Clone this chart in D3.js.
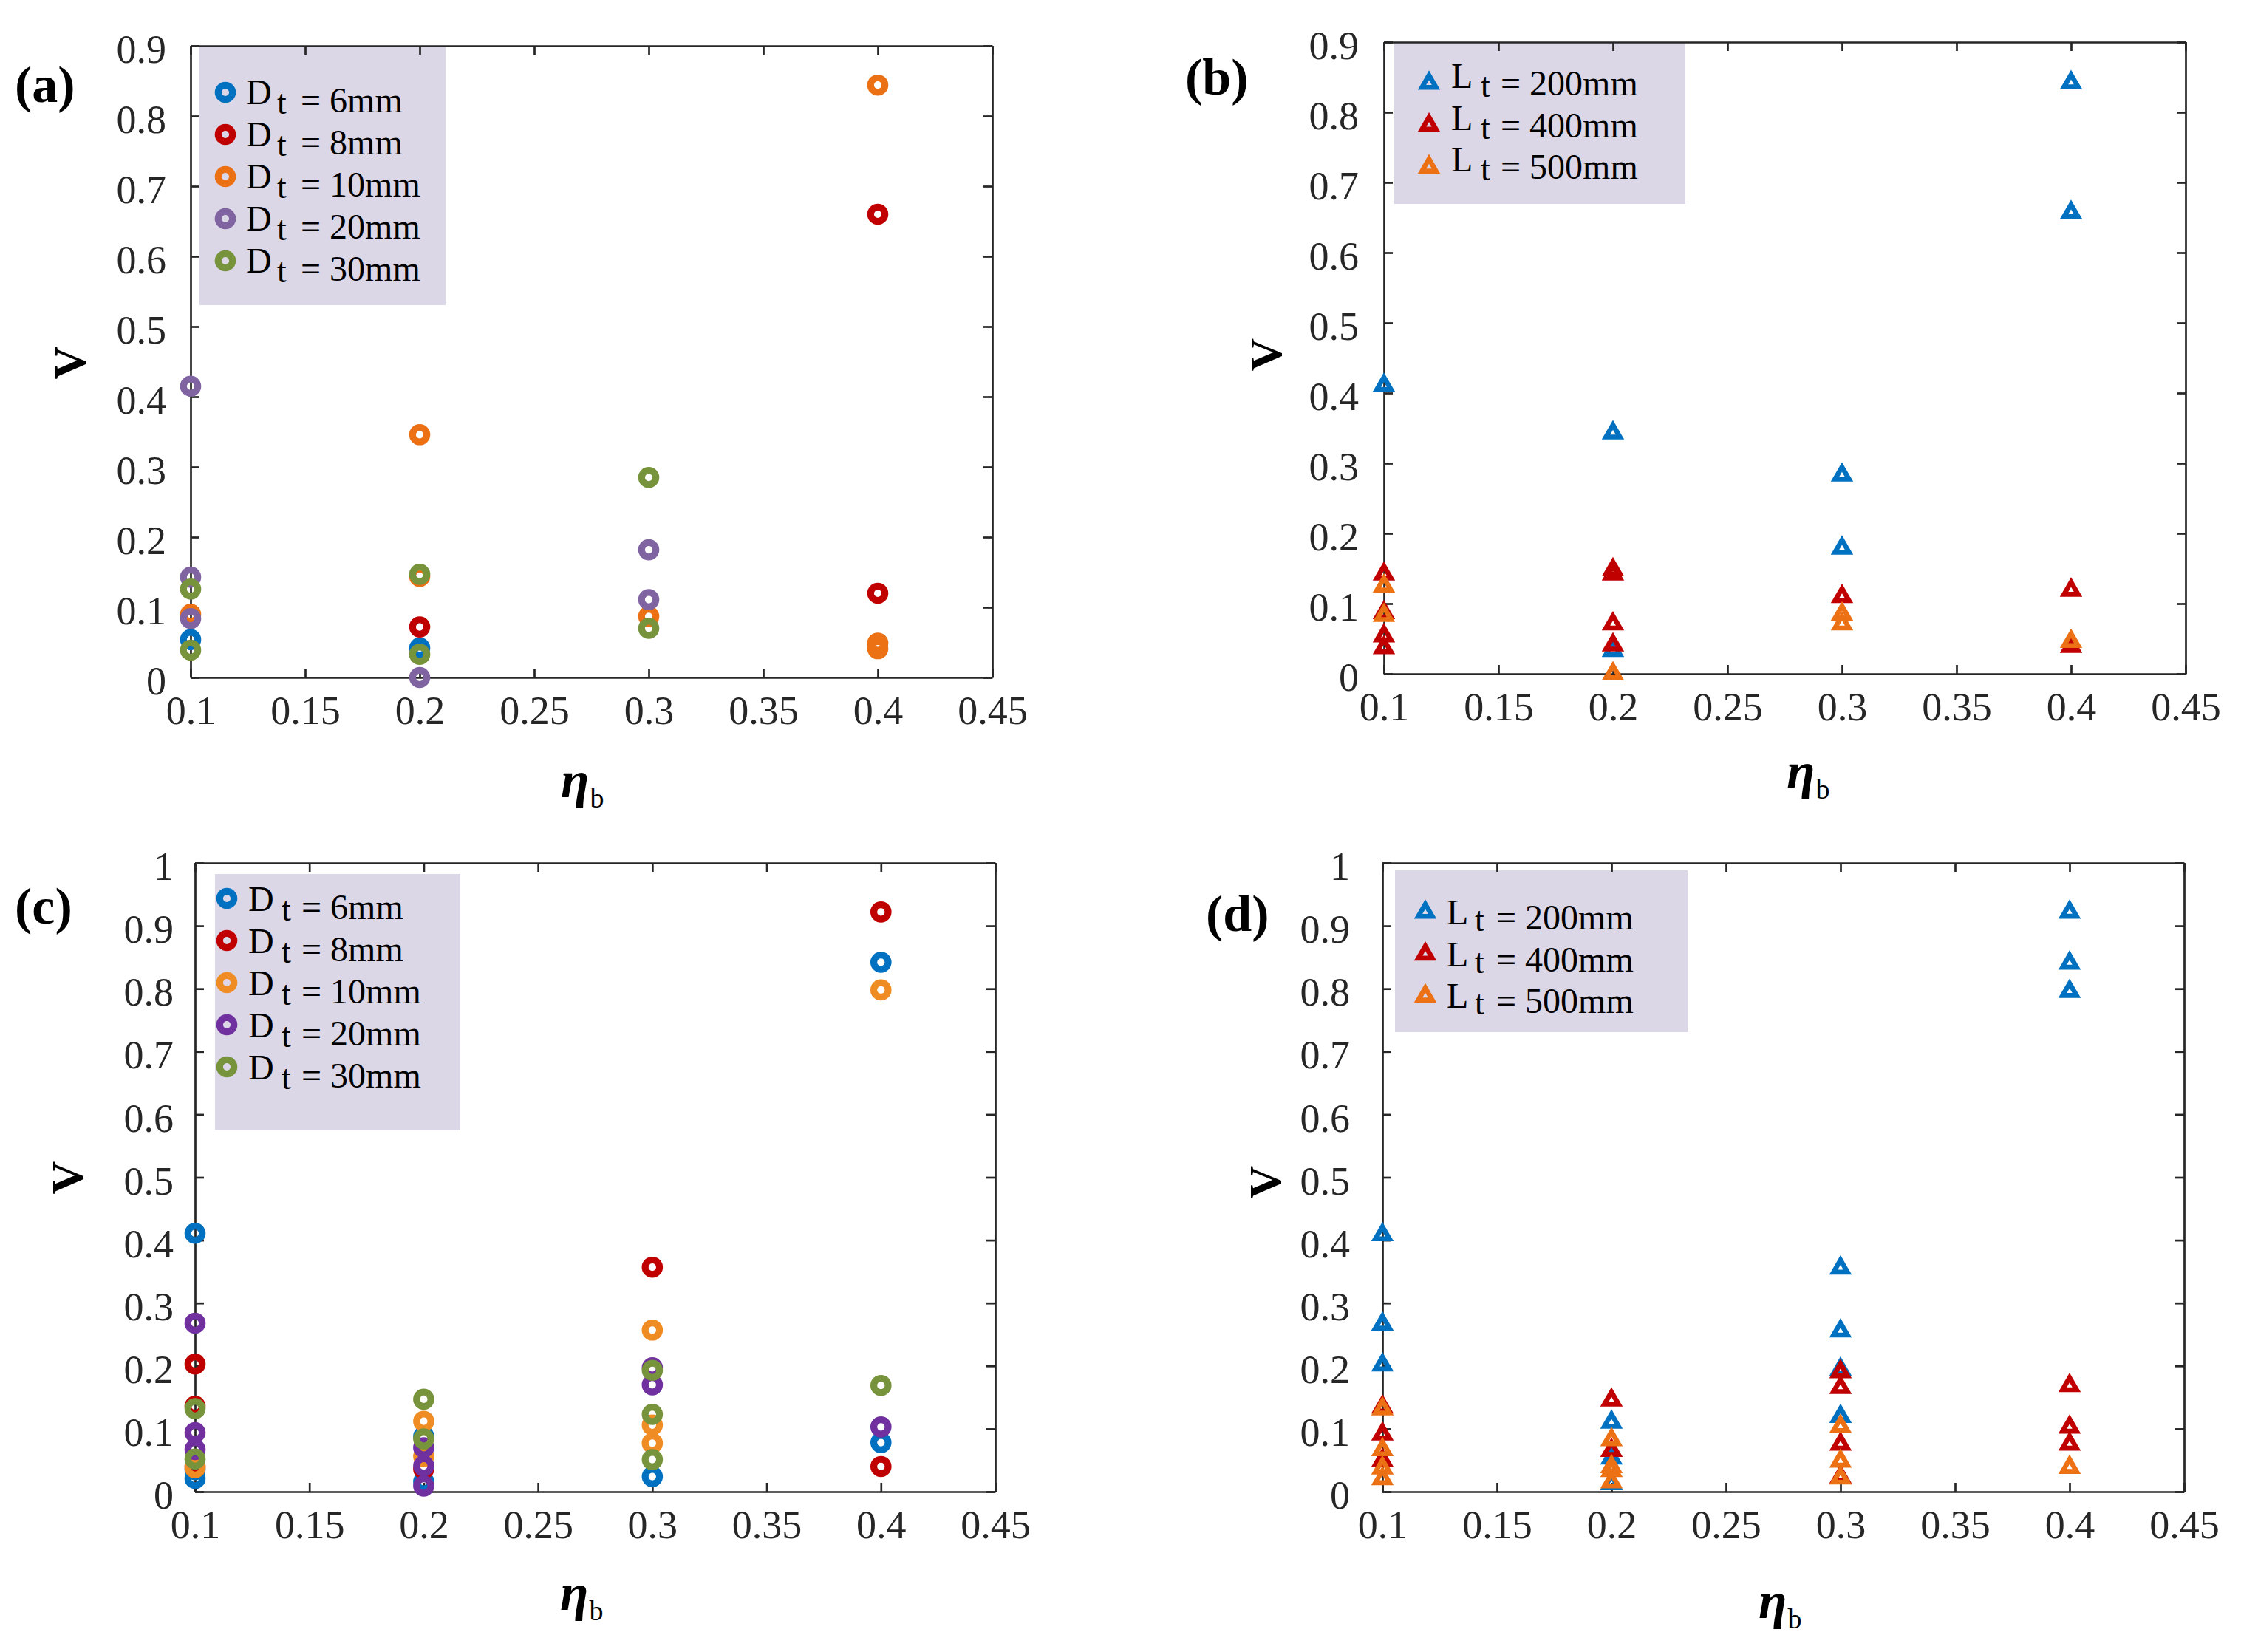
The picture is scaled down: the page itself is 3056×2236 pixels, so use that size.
<!DOCTYPE html>
<html>
<head>
<meta charset="utf-8">
<script src="https://cdn.jsdelivr.net/npm/d3@7"></script>
<style>
  html, body { margin: 0; padding: 0; background: #ffffff; }
  svg { display: block; }
  text { font-family: "Liberation Serif", "Times New Roman", serif; }
</style>
</head>
<body>
<svg id="chart" width="3056" height="2236"></svg>
<script>
// ---------------- DATA ----------------
const xTickValues = [0.1, 0.15, 0.2, 0.25, 0.3, 0.35, 0.4, 0.45];
const xTickLabels = ["0.1", "0.15", "0.2", "0.25", "0.3", "0.35", "0.4", "0.45"];
const yTickValuesTop = [0, 0.1, 0.2, 0.3, 0.4, 0.5, 0.6, 0.7, 0.8, 0.9];
const yTickLabelsTop = ["0", "0.1", "0.2", "0.3", "0.4", "0.5", "0.6", "0.7", "0.8", "0.9"];
const yTickValuesBottom = [0, 0.1, 0.2, 0.3, 0.4, 0.5, 0.6, 0.7, 0.8, 0.9, 1];
const yTickLabelsBottom = ["0", "0.1", "0.2", "0.3", "0.4", "0.5", "0.6", "0.7", "0.8", "0.9", "1"];

const dtNames = ["6mm", "8mm", "10mm", "20mm", "30mm"];
const ltNames = ["200mm", "400mm", "500mm"];

// panel (a): [eta_b, V]
const a_D6  = [[0.1, 0.054], [0.2, 0.042]];
const a_D8  = [[0.2, 0.072], [0.4, 0.660], [0.4, 0.120]];
const a_D10 = [[0.1, 0.090], [0.2, 0.346], [0.2, 0.144], [0.3, 0.087], [0.4, 0.844], [0.4, 0.049], [0.4, 0.041]];
const a_D20 = [[0.1, 0.415], [0.1, 0.143], [0.1, 0.084], [0.2, 0.000], [0.3, 0.182], [0.3, 0.111]];
const a_D30 = [[0.1, 0.126], [0.1, 0.039], [0.2, 0.147], [0.2, 0.033], [0.3, 0.285], [0.3, 0.070]];

// panel (b)
const b_L200 = [[0.1, 0.415], [0.2, 0.347], [0.2, 0.037], [0.3, 0.287], [0.3, 0.183], [0.4, 0.846], [0.4, 0.661]];
const b_L400 = [[0.1, 0.146], [0.1, 0.091], [0.1, 0.058], [0.1, 0.041], [0.2, 0.152], [0.2, 0.146], [0.2, 0.075], [0.2, 0.045], [0.3, 0.114], [0.4, 0.123], [0.4, 0.043]];
const b_L500 = [[0.1, 0.129], [0.1, 0.087], [0.2, 0.004], [0.3, 0.089], [0.3, 0.075], [0.4, 0.050]];

// panel (c)
const c_D6  = [[0.1, 0.411], [0.1, 0.035], [0.1, 0.021], [0.2, 0.088], [0.2, 0.016], [0.3, 0.024], [0.4, 0.842], [0.4, 0.078]];
const c_D8  = [[0.1, 0.203], [0.1, 0.136], [0.1, 0.040], [0.2, 0.036], [0.3, 0.357], [0.4, 0.922], [0.4, 0.040]];
const c_D10 = [[0.1, 0.038], [0.2, 0.112], [0.2, 0.056], [0.3, 0.257], [0.3, 0.106], [0.3, 0.077], [0.4, 0.798]];
const c_D20 = [[0.1, 0.268], [0.1, 0.094], [0.1, 0.067], [0.2, 0.070], [0.2, 0.041], [0.2, 0.009], [0.3, 0.197], [0.3, 0.170], [0.4, 0.103]];
const c_D30 = [[0.1, 0.132], [0.1, 0.052], [0.2, 0.147], [0.2, 0.084], [0.3, 0.193], [0.3, 0.123], [0.3, 0.051], [0.4, 0.169]];

// panel (d)
const d_L200 = [[0.1, 0.413], [0.1, 0.271], [0.1, 0.206], [0.2, 0.115], [0.2, 0.058], [0.2, 0.017], [0.3, 0.360], [0.3, 0.260], [0.3, 0.199], [0.3, 0.124], [0.4, 0.926], [0.4, 0.845], [0.4, 0.800]];
const d_L400 = [[0.1, 0.139], [0.1, 0.096], [0.1, 0.054], [0.2, 0.150], [0.2, 0.070], [0.3, 0.195], [0.3, 0.170], [0.3, 0.080], [0.3, 0.028], [0.4, 0.173], [0.4, 0.107], [0.4, 0.080]];
const d_L500 = [[0.1, 0.136], [0.1, 0.071], [0.1, 0.042], [0.1, 0.025], [0.2, 0.087], [0.2, 0.044], [0.2, 0.038], [0.2, 0.020], [0.3, 0.108], [0.3, 0.053], [0.3, 0.026], [0.4, 0.043]];

// ---------------- STYLE / LAYOUT ----------------
const AXIS_COLOR = "#262626";
const LEGEND_FILL = "#DCD7E6";
const cBlue = "#0070C0", cRed = "#C00000", cOrange = "#EC7014", cOrangeC = "#F08C24";
const cPurpleA = "#8064A2", cPurpleC = "#7030A0", cGreen = "#77933C";

const panels = [
  { tag: "(a)", tagX: 20, tagY: 138, box: {L: 258, R: 1343, T: 62, B: 917}, ymax: 0.9,
    yt: yTickValuesTop, ytl: yTickLabelsTop, ylPad: 33, marker: "circle", sym: "D",
    series: [a_D6, a_D8, a_D10, a_D20, a_D30], names: dtNames,
    colors: [cBlue, cRed, cOrange, cPurpleA, cGreen],
    leg: {x0: 270, x1: 603, y0: 63, y1: 413, mx: 305, my: 125, step: 57, sx: 333, tx: 375, ex: 407, sdy: 16, tdy: 27},
    vLab: [94, 491], eta: {x: 759, y: 1079} },
  { tag: "(b)", tagX: 1604, tagY: 128, box: {L: 1873, R: 2958, T: 57, B: 912}, ymax: 0.9,
    yt: yTickValuesTop, ytl: yTickLabelsTop, ylPad: 34, marker: "triangle", sym: "L",
    series: [b_L200, b_L400, b_L500], names: ltNames,
    colors: [cBlue, cRed, cOrange],
    leg: {x0: 1887, x1: 2281, y0: 58, y1: 276, mx: 1934, my: 109, step: 56.7, sx: 1964, tx: 2004, ex: 2031, sdy: 10, tdy: 20},
    vLab: [1713, 480], eta: {x: 2418, y: 1067} },
  { tag: "(c)", tagX: 20, tagY: 1250, box: {L: 264, R: 1347, T: 1168, B: 2019}, ymax: 1,
    yt: yTickValuesBottom, ytl: yTickLabelsBottom, ylPad: 29, marker: "circle", sym: "D",
    series: [c_D6, c_D8, c_D10, c_D20, c_D30], names: dtNames,
    colors: [cBlue, cRed, cOrangeC, cPurpleC, cGreen],
    leg: {x0: 291, x1: 623, y0: 1183, y1: 1530, mx: 307, my: 1216, step: 57, sx: 336, tx: 381, ex: 408, sdy: 17, tdy: 28},
    vLab: [91, 1594], eta: {x: 758, y: 2179} },
  { tag: "(d)", tagX: 1632, tagY: 1260, box: {L: 1871, R: 2956, T: 1168, B: 2019}, ymax: 1,
    yt: yTickValuesBottom, ytl: yTickLabelsBottom, ylPad: 44, marker: "triangle", sym: "L",
    series: [d_L200, d_L400, d_L500], names: ltNames,
    colors: [cBlue, cRed, cOrange],
    leg: {x0: 1888, x1: 2284, y0: 1178, y1: 1397, mx: 1929, my: 1231, step: 56.7, sx: 1958, tx: 1996, ex: 2025, sdy: 20, tdy: 27},
    vLab: [1712, 1600], eta: {x: 2380, y: 2190} }
];

const svg = d3.select("#chart");
svg.append("rect").attr("width", 3056).attr("height", 2236).attr("fill", "#fff");

const triPath = "M0,-7.2 L9.5,9.2 L-9.5,9.2 Z";

function drawMarker(sel, type, color) {
  if (type === "circle") {
    sel.append("circle").attr("r", 9.7).attr("fill", "none")
      .attr("stroke", color).attr("stroke-width", 9.2);
  } else {
    sel.append("path").attr("d", triPath).attr("fill", "none")
      .attr("stroke", color).attr("stroke-width", 6.6).attr("stroke-linejoin", "miter")
      .attr("stroke-miterlimit", 10);
  }
}

panels.forEach(p => {
  const g = svg.append("g");
  const {L, R, T, B} = p.box;
  const x = d3.scaleLinear().domain([0.1, 0.45]).range([L, R]);
  const y = d3.scaleLinear().domain([0, p.ymax]).range([B, T]);

  // legend background (under axes as in reference)
  const lg = p.leg;
  g.append("rect").attr("x", lg.x0).attr("y", lg.y0)
    .attr("width", lg.x1 - lg.x0).attr("height", lg.y1 - lg.y0)
    .attr("fill", LEGEND_FILL);

  // axes
  const styleAxis = sel => {
    sel.select(".domain").attr("stroke", AXIS_COLOR).attr("stroke-width", 2.7);
    sel.selectAll(".tick line").attr("stroke", AXIS_COLOR).attr("stroke-width", 2.7);
    sel.selectAll(".tick text").attr("fill", AXIS_COLOR)
      .attr("font-family", '"Liberation Serif", "Times New Roman", serif')
      .attr("font-size", 54);
  };

  g.append("g").attr("transform", `translate(0,${B})`)
    .call(d3.axisBottom(x).tickValues(xTickValues).tickSize(-12).tickSizeOuter(0)
      .tickPadding(25).tickFormat((d, i) => xTickLabels[i]))
    .call(styleAxis);
  g.append("g").attr("transform", `translate(0,${T})`)
    .call(d3.axisTop(x).tickValues(xTickValues).tickSize(-12).tickSizeOuter(0).tickFormat(""))
    .call(styleAxis);
  g.append("g").attr("transform", `translate(${L},0)`)
    .call(d3.axisLeft(y).tickValues(p.yt).tickSize(-12).tickSizeOuter(0)
      .tickPadding(p.ylPad).tickFormat((d, i) => p.ytl[i]))
    .call(styleAxis)
    .call(s => s.selectAll(".tick text").attr("dy", "0.42em"));
  g.append("g").attr("transform", `translate(${R},0)`)
    .call(d3.axisRight(y).tickValues(p.yt).tickSize(-12).tickSizeOuter(0).tickFormat(""))
    .call(styleAxis);

  // data markers
  p.series.forEach((arr, si) => {
    const sg = g.append("g");
    arr.forEach(d => {
      const m = sg.append("g").attr("transform", `translate(${x(d[0])},${y(d[1])})`);
      drawMarker(m, p.marker, p.colors[si]);
    });
  });

  // legend entries
  p.names.forEach((nm, i) => {
    const cy = lg.my + i * lg.step;
    const m = g.append("g").attr("transform", `translate(${lg.mx},${cy})`);
    drawMarker(m, p.marker, p.colors[i]);
    g.append("text").attr("x", lg.sx).attr("y", cy + lg.sdy)
      .attr("font-size", 48).attr("fill", "#000").text(p.sym);
    g.append("text").attr("x", lg.tx).attr("y", cy + lg.tdy + 2)
      .attr("font-size", 46).attr("fill", "#000").text("t");
    g.append("text").attr("x", lg.ex).attr("y", cy + lg.tdy)
      .attr("font-size", 48).attr("fill", "#000").text("= " + nm);
  });

  // panel tag
  g.append("text").attr("x", p.tagX).attr("y", p.tagY)
    .attr("font-size", 70).attr("font-weight", "bold").attr("fill", "#000").text(p.tag);

  // y label
  g.append("text").attr("transform", `translate(${p.vLab[0]},${p.vLab[1]}) rotate(-90)`)
    .attr("text-anchor", "middle").attr("dominant-baseline", "central")
    .attr("font-size", 62).attr("font-weight", "bold").attr("fill", "#000").text("V");

  // x label eta_b
  const xl = g.append("text").attr("x", p.eta.x).attr("y", p.eta.y).attr("fill", "#000");
  xl.append("tspan").attr("font-size", 70).attr("font-weight", "bold")
    .attr("font-style", "italic").text("η");
  xl.append("tspan").attr("font-size", 38).attr("dx", 1).attr("dy", 14).text("b");
});
</script>
</body>
</html>
